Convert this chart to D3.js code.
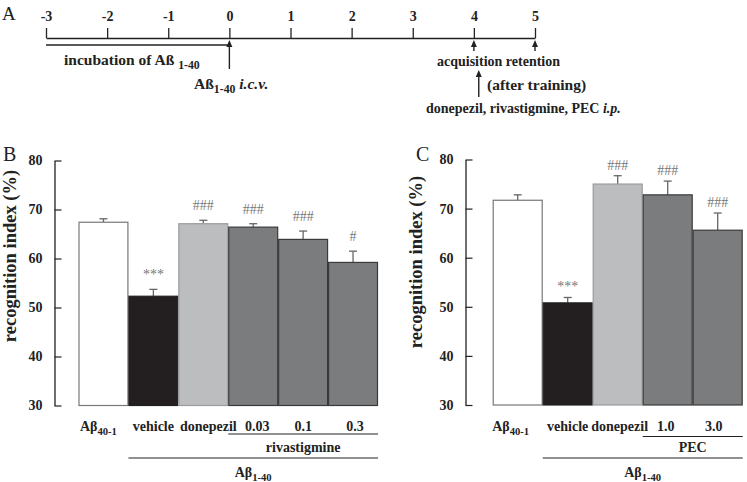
<!DOCTYPE html>
<html><head><meta charset="utf-8">
<script src="https://cdn.jsdelivr.net/npm/d3@7/dist/d3.min.js"></script>
<style>
body{margin:0;background:#fff;}
svg{display:block;font-family:"Liberation Serif","Times New Roman",serif;}
</style></head><body>
<svg id="c" width="747" height="482"></svg>
<script>
// ---- data ----
const dayTicks = [-3,-2,-1,0,1,2,3,4,5];
const eventDays = {icv:0, acquisition:4, retention:5, drug:4.08};

const catsB = ["Aβ40-1","vehicle","donepezil","0.03","0.1","0.3"];
const meansB = [67.4, 52.3, 67.1, 66.4, 63.9, 59.2];
const semB   = [0.7, 1.4, 0.7, 0.7, 1.7, 2.3];
const sigB   = ["", "***", "###", "###", "###", "#"];

const catsC = ["Aβ40-1","vehicle","donepezil","1.0","3.0"];
const meansC = [71.7, 50.8, 75.0, 72.8, 65.6];
const semC   = [1.1, 1.1, 1.7, 2.8, 3.5];
const sigC   = ["", "***", "###", "###", "###"];

const yTicks = [30,40,50,60,70,80];
const fills  = ["#ffffff","#231f20","#bcbdbf","#7b7c7e","#7b7c7e","#7b7c7e"];
const strokes= ["#777777","#231f20","#9a9b9d","#3a3a3a","#3a3a3a","#3a3a3a"];

const svg = d3.select("#c");
const BOLD = "bold";

// ---- Panel A: timeline ----
const xA = d3.scaleLinear().domain([-3,5]).range([46,535]);
const gA = svg.append("g");
gA.append("text").attr("x",2).attr("y",20).attr("font-size",19).attr("fill","#222").text("A");
const axA = gA.append("g").attr("transform","translate(0,38)")
  .call(d3.axisTop(xA).tickValues(dayTicks).tickSize(10).tickSizeOuter(0).tickPadding(7).tickFormat(d3.format("d")));
axA.select(".domain").attr("stroke","#222").attr("stroke-width",1.3);
axA.selectAll(".tick line").attr("stroke","#222").attr("stroke-width",1.3);
axA.selectAll(".tick text").attr("font-size",14).attr("font-weight",BOLD).attr("fill","#222")
  .attr("font-family","'Liberation Serif',serif").text(d=> d<0 ? "-"+Math.abs(d) : d);

// incubation line
gA.append("line").attr("x1",xA(-3)).attr("x2",xA(0)).attr("y1",45).attr("y2",45).attr("stroke","#222").attr("stroke-width",1.3);

function arrow(x, yTop, yBot){
  gA.append("line").attr("x1",x).attr("x2",x).attr("y1",yTop+5).attr("y2",yBot).attr("stroke","#222").attr("stroke-width",1.4);
  gA.append("path").attr("d",`M${x},${yTop} L${x-3},${yTop+7} L${x+3},${yTop+7} Z`).attr("fill","#222");
}
arrow(xA(eventDays.icv), 40, 69);
arrow(xA(eventDays.acquisition), 40, 51);
arrow(xA(eventDays.retention), 40, 51);
arrow(xA(eventDays.drug), 70, 97);

function subText(g, x, y, parts, size, anchor){
  const t = g.append("text").attr("x",x).attr("y",y).attr("font-size",size).attr("font-weight",BOLD)
    .attr("fill","#222").attr("text-anchor",anchor||"start");
  parts.forEach(p=>{
    const s = t.append("tspan").text(p.t);
    if(p.sub){ s.attr("font-size",size*0.76).attr("dy",4); }
    if(p.up){ s.attr("dy",-4); }
    if(p.it){ s.attr("font-style","italic"); }
  });
  return t;
}
subText(gA, 64, 65, [{t:"incubation of Aß "},{t:"1-40",sub:true}], 15.5);
subText(gA, 194, 89, [{t:"Aß"},{t:"1-40",sub:true},{t:" i.c.v.",it:true,up:true}], 15.5);
subText(gA, 437, 66, [{t:"acquisition  retention"}], 14);
subText(gA, 487, 90, [{t:"(after training)"}], 15.5);
subText(gA, 426, 113, [{t:"donepezil, rivastigmine, PEC  "},{t:"i.p.",it:true}], 14);

// ---- bar panels ----
function panel(opt){
  const g = svg.append("g");
  const y = d3.scaleLinear().domain([30,80]).range(opt.yRange);
  const x = d3.scaleBand().domain(opt.cats).range(opt.xRange).padding(0);
  g.append("text").attr("x",opt.letterX).attr("y",161).attr("font-size",20).attr("fill","#222").text(opt.letter);
  const ax = g.append("g").attr("transform",`translate(${opt.axisX},0)`)
    .call(d3.axisLeft(y).tickValues(yTicks).tickSize(-7).tickSizeOuter(0).tickPadding(12));
  ax.select(".domain").attr("stroke","#222").attr("stroke-width",1.3);
  ax.selectAll(".tick line").attr("stroke","#222").attr("stroke-width",1.2);
  ax.selectAll(".tick text").attr("font-size",14).attr("font-weight",BOLD).attr("fill","#222")
    .attr("font-family","'Liberation Serif',serif");
  g.append("text").attr("transform",`translate(${opt.labelX},${opt.labelY}) rotate(-90)`)
    .attr("text-anchor","middle").attr("font-size",18.5).attr("font-weight",BOLD).attr("fill","#222")
    .text("recognition index (%)");
  // error bars
  opt.cats.forEach((c,i)=>{
    const cx = x(c)+x.bandwidth()/2;
    const top = y(opt.means[i]+opt.sem[i]);
    g.append("line").attr("x1",cx).attr("x2",cx).attr("y1",y(opt.means[i])).attr("y2",top).attr("stroke","#666").attr("stroke-width",1.3);
    g.append("line").attr("x1",cx-4).attr("x2",cx+4).attr("y1",top).attr("y2",top).attr("stroke","#666").attr("stroke-width",1.3);
    if(opt.sig[i]){
      g.append("text").attr("x",cx).attr("y",top-opt.sigGap).attr("text-anchor","middle")
        .attr("font-size",14).attr("fill","#777").text(opt.sig[i]);
    }
  });
  g.selectAll("rect.bar").data(opt.cats).join("rect").attr("class","bar")
    .attr("x",c=>x(c)+0.5).attr("width",x.bandwidth()-1)
    .attr("y",(c,i)=>y(opt.means[i])).attr("height",(c,i)=>y(30)-y(opt.means[i]))
    .attr("fill",(c,i)=>fills[i]).attr("stroke",(c,i)=>strokes[i]).attr("stroke-width",1.2);
  // category labels
  opt.cats.forEach((c,i)=>{
    const cx = x(c)+x.bandwidth()/2 + (opt.shift[i]||0);
    if(c.startsWith("Aβ")){
      subText(g, cx, 431, [{t:"Aβ"},{t:"40-1",sub:true}], 14, "middle");
    } else {
      subText(g, cx, 431, [{t:c}], 14, "middle");
    }
  });
  const first = opt.cats[opt.groupStart];
  const last = opt.cats[opt.cats.length-1];
  g.append("line").attr("x1",x(first)).attr("x2",x(last)+x.bandwidth()).attr("y1",opt.line1Y).attr("y2",opt.line1Y).attr("stroke","#222").attr("stroke-width",1.2);
  subText(g, (x(first)+x(last)+x.bandwidth())/2, 452, [{t:opt.drug}], 14, "middle");
  g.append("line").attr("x1",x(opt.cats[1])).attr("x2",x(last)+x.bandwidth()).attr("y1",458).attr("y2",458).attr("stroke","#222").attr("stroke-width",1.2);
  subText(g, (x(opt.cats[1])+x(last)+x.bandwidth())/2, 477, [{t:"Aβ"},{t:"1-40",sub:true}], 14, "middle");
}

panel({letter:"B", letterX:3, cats:catsB, means:meansB, sem:semB, sig:sigB,
  yRange:[405.5,160.5], xRange:[78.5,378], axisX:54.5, labelX:16, labelY:256,
  sigGap:10, groupStart:3, line1Y:434, drug:"rivastigmine", shift:[-5,0,5,4,0,2]});
panel({letter:"C", letterX:416, cats:catsC, means:meansC, sem:semC, sig:sigC,
  yRange:[405,159.5], xRange:[492.7,742.7], axisX:465.5, labelX:422, labelY:262,
  sigGap:6, groupStart:3, line1Y:436.5, drug:"PEC", shift:[-7,0,2,-2,-4]});
</script></body></html>
